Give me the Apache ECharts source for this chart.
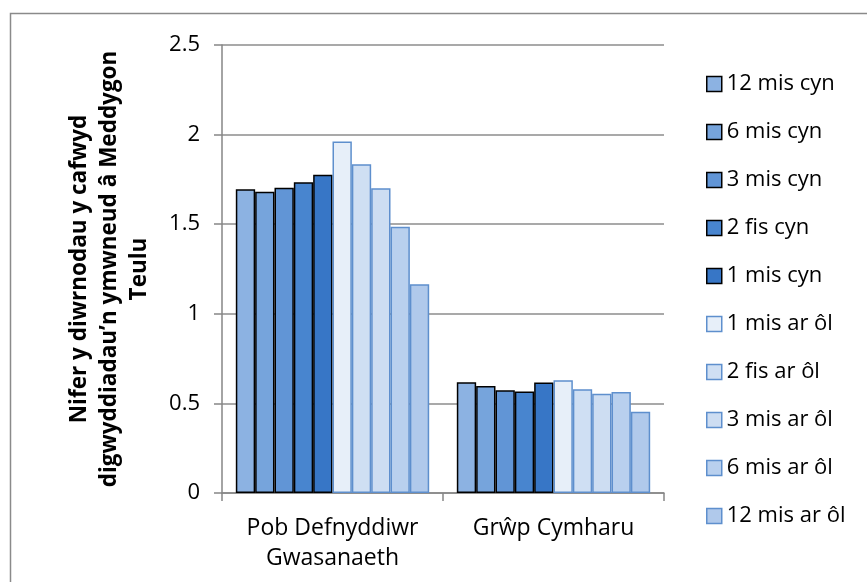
<!DOCTYPE html>
<html>
<head>
<meta charset="utf-8">
<script src="https://cdn.jsdelivr.net/npm/echarts@6/dist/echarts.min.js"></script>
<style>html,body{margin:0;padding:0;background:#fff;}#c{width:867px;height:582px;}</style>
</head>
<body>
<div id="c"></div>
<script>
const categories = ['Pob Defnyddiwr\nGwasanaeth', 'Grŵp Cymharu'];
const seriesNames = ['12 mis cyn', '6 mis cyn', '3 mis cyn', '2 fis cyn', '1 mis cyn',
  '1 mis ar ôl', '2 fis ar ôl', '3 mis ar ôl', '6 mis ar ôl', '12 mis ar ôl'];
const s12cyn = [1.695, 0.618];
const s6cyn = [1.681, 0.597];
const s3cyn = [1.704, 0.573];
const s2cyn = [1.734, 0.567];
const s1cyn = [1.776, 0.616];
const s1ol = [1.961, 0.629];
const s2ol = [1.834, 0.579];
const s3ol = [1.700, 0.554];
const s6ol = [1.486, 0.564];
const s12ol = [1.165, 0.454];
const seriesValues = [s12cyn, s6cyn, s3cyn, s2cyn, s1cyn, s1ol, s2ol, s3ol, s6ol, s12ol];
const yTicks = [0, 0.5, 1, 1.5, 2, 2.5];

const fills = ['#8CB2E2', '#76A4DC', '#6195D6', '#4885CF', '#3776C6',
  '#E7EFF9', '#CFDFF3', '#CDDDF2', '#B9D0EE', '#B0C9EB'];
const borders = ['#000', '#000', '#000', '#000', '#000',
  '#5E8FCD', '#5E8FCD', '#5E8FCD', '#5E8FCD', '#5E8FCD'];

const chart = echarts.init(document.getElementById('c'));
const FONT = 'Open Sans';
chart.setOption({
  animation: false,
  textStyle: { fontFamily: FONT },
  graphic: [{
    type: 'rect', left: 8, top: 11, silent: true,
    shape: { width: 900, height: 620 },
    style: { fill: 'none', stroke: '#8a8a8a', lineWidth: 1.5 }
  }],
  grid: { left: 222, right: 203, top: 45, bottom: 89 },
  legend: {
    orient: 'vertical', left: 701, top: 68,
    itemWidth: 15, itemHeight: 15, itemGap: 26,
    textStyle: { fontSize: 22, color: '#000', fontFamily: FONT, lineHeight: 22 },
    data: seriesNames.map((n, i) => ({ name: n, icon: 'rect',
      itemStyle: { color: fills[i], borderColor: borders[i], borderWidth: 1.5 } }))
  },
  xAxis: {
    type: 'category', data: categories,
    axisLine: { lineStyle: { color: '#868686', width: 1.5 } },
    axisTick: { show: true, length: 8, lineStyle: { color: '#868686', width: 1.5 } },
    axisLabel: { interval: 0, hideOverlap: false, fontSize: 23, color: '#000', lineHeight: 30, margin: 20, fontFamily: FONT }
  },
  yAxis: {
    type: 'value', min: 0, max: 2.5, interval: 0.5,
    name: 'Nifer y diwrnodau y cafwyd\ndigwyddiadau’n ymwneud â Meddygon\nTeulu',
    nameLocation: 'middle', nameGap: 67, nameRotate: 90,
    nameTextStyle: { fontSize: 22.5, fontWeight: 'bold', color: '#000', lineHeight: 30, fontFamily: FONT },
    axisLine: { show: true, lineStyle: { color: '#868686', width: 1.5 } },
    axisTick: { show: true, length: 8, lineStyle: { color: '#868686', width: 1.5 } },
    axisLabel: { fontSize: 22, color: '#000', margin: 22, fontFamily: FONT,
      formatter: v => yTicks.includes(v) ? String(v) : '' },
    splitLine: { lineStyle: { color: '#8c8c8c', width: 1.5 } }
  },
  series: seriesNames.map((n, i) => ({
    name: n, type: 'bar', data: seriesValues[i],
    barGap: '0%', barCategoryGap: '12.5%',
    itemStyle: { color: fills[i], borderColor: borders[i], borderWidth: 1.5 }
  }))
});
</script>
</body>
</html>
